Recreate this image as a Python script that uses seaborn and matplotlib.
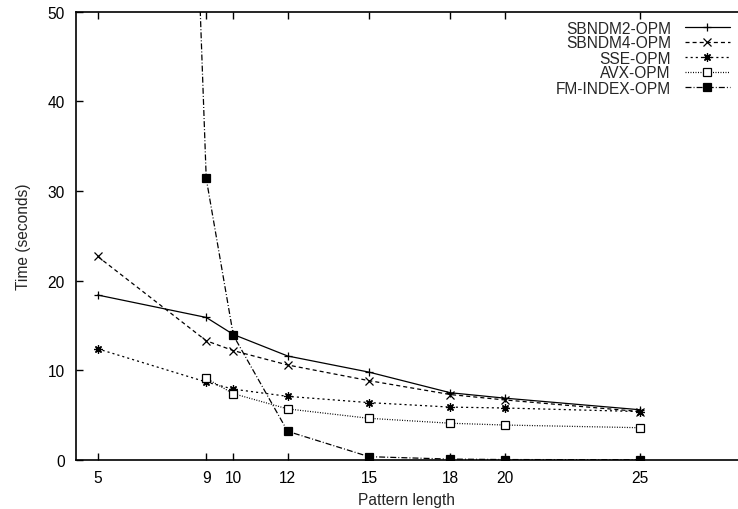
import matplotlib
matplotlib.use("Agg")
import matplotlib.pyplot as plt
import seaborn as sns
import pandas as pd

# ---- data ----
pattern_length = [5, 9, 10, 12, 15, 18, 20, 25]
sbndm2 = [18.4, 15.9, 14.0, 11.6, 9.8, 7.5, 6.9, 5.6]
sbndm4 = [22.7, 13.3, 12.2, 10.6, 8.85, 7.3, 6.7, 5.4]
sse = [12.4, 8.7, 7.9, 7.1, 6.4, 5.9, 5.8, 5.4]
avx = [None, 9.1, 7.4, 5.7, 4.65, 4.1, 3.9, 3.6]
fm_index = [370.0, 31.4, 13.9, 3.2, 0.37, 0.1, 0.05, 0.03]
series_names = ["SBNDM2-OPM", "SBNDM4-OPM", "SSE-OPM", "AVX-OPM", "FM-INDEX-OPM"]
x_ticks = [5, 9, 10, 12, 15, 18, 20, 25]
y_ticks = [0, 10, 20, 30, 40, 50]

sns.set_style("ticks")
plt.rcParams["font.family"] = ["Liberation Sans", "DejaVu Sans"]
plt.rcParams["lines.scale_dashes"] = False

FS = 11.2

fig = plt.figure(figsize=(7.38, 5.10), dpi=100)
ax = fig.add_axes([76 / 738, 49 / 510, 1 - 76 / 738, (461 - 12.7) / 510])

styles = [
    dict(marker="+", linestyle="-", markersize=7, mew=0.9, mfc="black"),
    dict(marker="x", linestyle=(0, (2.9, 2.2)), markersize=6, mew=0.9, mfc="black"),
    dict(marker=(8, 2, 0), linestyle=(0, (1.5, 2.2)), markersize=7, mew=0.9, mfc="black"),
    dict(marker="s", linestyle=(0, (0.7, 1.1)), markersize=6, mew=0.9, mfc="white"),
    dict(marker="s", linestyle=(0, (4.3, 1.5, 0.7, 1.5)), markersize=7, mew=0.9, mfc="black"),
]
all_series = [sbndm2, sbndm4, sse, avx, fm_index]

for name, vals, st in zip(series_names, all_series, styles):
    df = pd.DataFrame({"x": pattern_length, "y": vals}).dropna()
    sns.lineplot(data=df, x="x", y="y", ax=ax, color="black", linewidth=0.9,
                 mec="black", label=name, **st)

ax.set_xlim(4.2, 28.6)
ax.set_ylim(0, 50)
ax.set_xticks(x_ticks)
ax.set_xticklabels([str(t) for t in x_ticks])
ax.set_yticks(y_ticks)
ax.set_xlabel("Pattern length", fontsize=FS, labelpad=5.5)
ax.set_ylabel("Time (seconds)", fontsize=FS, labelpad=12)

ax.tick_params(axis="both", direction="in", length=5, width=1, labelsize=FS,
               colors="black")
ax.tick_params(axis="x", top=True, pad=7)
ax.tick_params(axis="y", right=False, pad=8)
for s in ["left", "bottom", "top"]:
    ax.spines[s].set_visible(True)
    ax.spines[s].set_linewidth(1.2)
    ax.spines[s].set_color("black")
ax.spines["right"].set_visible(False)

handles, labels = ax.get_legend_handles_labels()
for h in handles:
    h.set_markersize(h.get_markersize() * 0.85)
leg = ax.legend(handles, labels, markerfirst=False, frameon=False,
                loc="upper right", bbox_to_anchor=(730 / 738, 1 - 21.5 / 510),
                bbox_transform=fig.transFigure, handlelength=2.9,
                handletextpad=0.9, labelspacing=0.0, borderpad=0,
                borderaxespad=0, fontsize=FS)

fig.savefig("out.png", dpi=100)
